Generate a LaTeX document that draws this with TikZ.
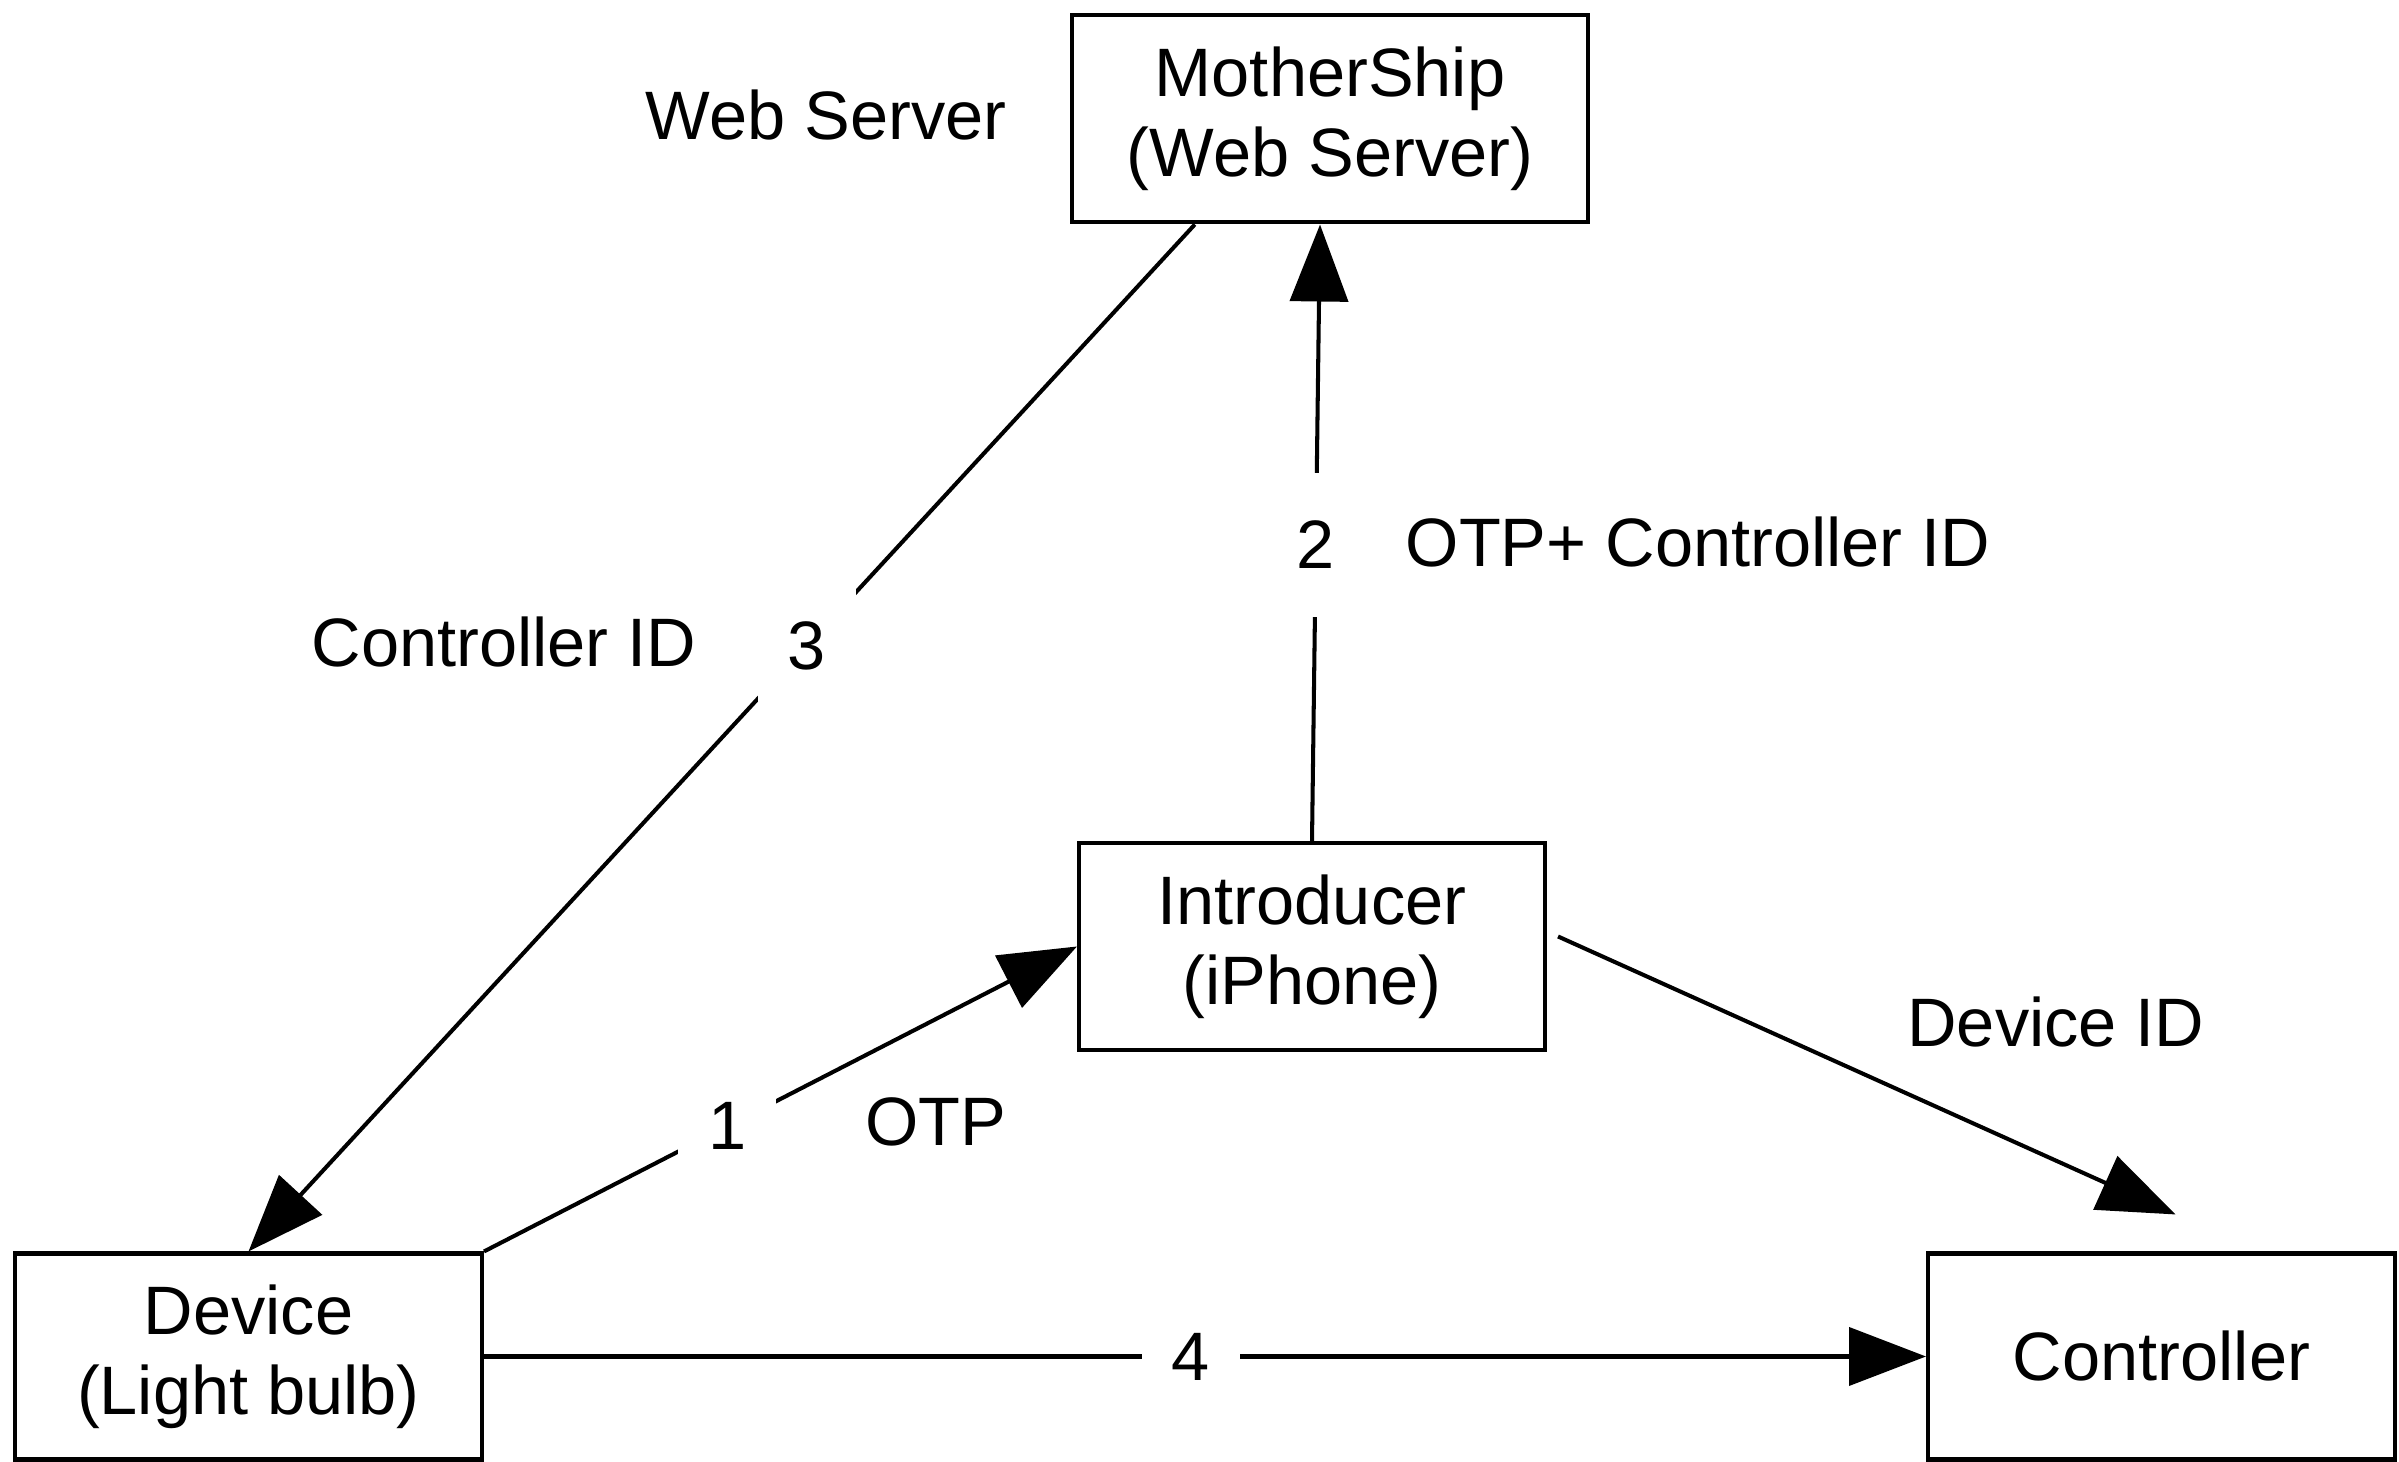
\documentclass[tikz,border=0pt]{standalone}
\usepackage{fontspec}
\setmainfont{Liberation Sans}
\usetikzlibrary{arrows.meta,calc}

\begin{document}
\begin{tikzpicture}[
  every node/.style={font=\fontsize{19.5}{22.7}\selectfont},
  box/.style={draw, line width=1.15pt, align=center, inner sep=0pt, minimum width=4.67cm, minimum height=2.06cm},
  num/.style={fill=white, inner sep=0pt, minimum width=0.98cm, minimum height=1.44cm},
  flow/.style={line width=1.15pt, -{Triangle[length=0.77cm,width=0.58cm]}}
]
\useasboundingbox (0,0) rectangle (23.99,14.62);
% boxes
\node [box, minimum width=5.16cm, minimum height=2.07cm] (ship) at (13.30,13.43) {MotherShip\\(Web Server)};
\node [box, minimum width=4.66cm, minimum height=2.07cm] (intro) at (13.12,5.155) {Introducer\\(iPhone)};
\node [box] (dev) at (2.485,1.055) {Device\\(Light bulb)};
\node [box] (ctl) at (21.615,1.055) {Controller};
\coordinate (ctlin) at ($(ctl.north)+(0.14,0.37)$);
% free labels
\node (websrv) at (8.26,13.47) {Web Server};
\node (ctlid) at (5.04,8.20) {Controller ID};
\node (otpctl) at (16.98,9.20) {OTP+ Controller ID};
\node (otp) at (9.36,3.40) {OTP};
\node (devid) at (20.56,4.40) {Device ID};
% steps
\draw [flow] (dev.north east) -- (intro.west) node [num, pos=0.41] (n1) {1};
\draw [flow] (intro.north) -- ($(ship.south)+(-0.1,0)$) node [num, pos=0.48] (n2) {2};
\draw [flow] ($(ship.south west)!0.24!(ship.south east)$) -- (dev.north) node [num, pos=0.41] (n3) {3};
\draw [flow] ($(intro.east)+(0.11,0.1)$) -- (ctlin);
\draw [flow] (dev.east) -- (ctl.west) node [num, pos=0.49] (n4) {4};
\end{tikzpicture}
\end{document}
